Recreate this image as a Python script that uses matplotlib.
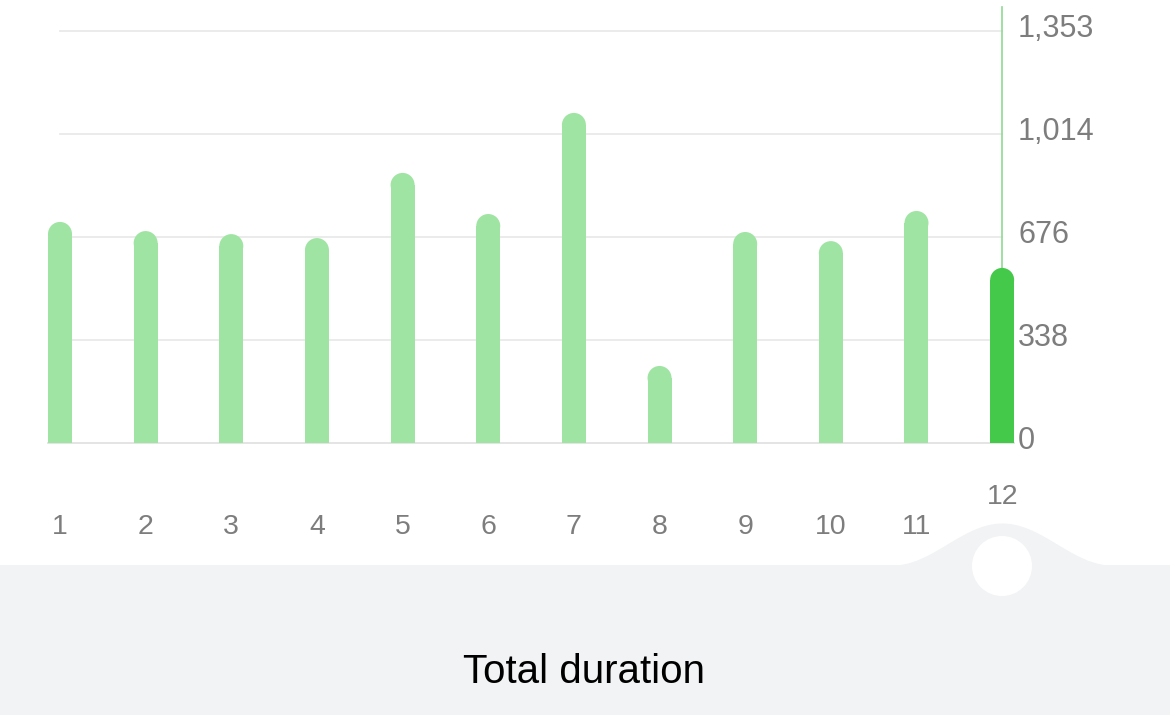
import numpy as np
import matplotlib
matplotlib.use("Agg")
import matplotlib.pyplot as plt
from matplotlib.patches import Ellipse, Circle, Rectangle
from matplotlib.transforms import blended_transform_factory

# ======================
# DATA
# ======================
months = [1, 2, 3, 4, 5, 6, 7, 8, 9, 10, 11, 12]
durations = [726, 696, 686, 673, 887, 752, 1084, 253, 693, 663, 762, 575]
y_ticks = [0, 338, 676, 1014, 1353]
selected = 12
title = "Total duration"

# ======================
# STYLE
# ======================
W, H = 1170, 715
LIGHT = "#a0e4a4"
DARK = "#45c94b"
GRID = "#e9e9e9"
LABEL = "#7d7d7d"
PANEL = "#f2f3f5"
plt.rcParams["font.family"] = ["Liberation Sans", "DejaVu Sans"]

# pixel layout: bar 1 centred at x=60, step 85.65 px; 0 at y=443, 1353 at y=31
x0_px, step_px = 60.0, 85.65
y0_px, ytop_px = 443.0, 31.0
per_px = y_ticks[-1] / (y0_px - ytop_px)

fig = plt.figure(figsize=(W / 100, H / 100), dpi=100)

# background layer in pixel coordinates (bottom panel + bump)
bg = fig.add_axes([0, 0, 1, 1], zorder=0)
bg.set_xlim(0, W)
bg.set_ylim(H, 0)
bg.axis("off")
bg.add_patch(Rectangle((0, 565), W, H - 565, color=PANEL, lw=0))
xs = np.linspace(892, 1112, 300)
u = (xs - 1002) / 110.0
bump = 565 - 42 * 0.5 * (1 + np.cos(np.pi * u))
bg.fill_between(xs, bump, 566, color=PANEL, lw=0)
bg.add_patch(Circle((1002, 566), 30, color="white", lw=0))
bg.text(W / 2 - 1, 672, title, ha="center", va="center", fontsize=29, color="black")

# main chart
ax = fig.add_axes([0, 0, 1, 1], zorder=1)
ax.patch.set_alpha(0)
ax.set_xlim(1 - x0_px / step_px, 1 + (W - x0_px) / step_px)
ax.set_ylim(-(H - y0_px) * per_px, y0_px * per_px)
ax.axis("off")

bw = 24 / step_px
r_y = 12 * per_px

for v in y_ticks[1:]:
    ax.plot([months[0], months[-1]], [v, v], color=GRID, lw=1.3, zorder=1)
ax.plot([months[0] - bw / 2, months[-1] + bw / 2], [0, 0], color="#e2e2e2", lw=1.3, zorder=1)

colors = [DARK if m == selected else LIGHT for m in months]
ax.bar(months, [d - r_y for d in durations], width=bw, color=colors, lw=0, zorder=2)
for m, d, c in zip(months, durations, colors):
    ax.add_patch(Ellipse((m, d - r_y), bw, 2 * r_y, color=c, lw=0, zorder=2))

# selection line
sel_val = durations[months.index(selected)]
ax.plot([selected, selected], [sel_val, ax.get_ylim()[1] * 0.985], color="#8fd994", lw=1.2, zorder=1)

# x labels
tr = blended_transform_factory(ax.transData, ax.transAxes)
for m in months:
    ypx = 497 if m == selected else 527
    ax.text(m, 1 - ypx / H, str(m), transform=tr, ha="center", va="center",
            fontsize=20.5, color=LABEL)

# y labels
tr2 = blended_transform_factory(ax.transAxes, ax.transData)
for v in y_ticks:
    ax.text(1018 / W, v + 2 * per_px, f"{v:,}", transform=tr2, ha="left", va="center",
            fontsize=22, color=LABEL)

fig.savefig("out.png", dpi=100)
